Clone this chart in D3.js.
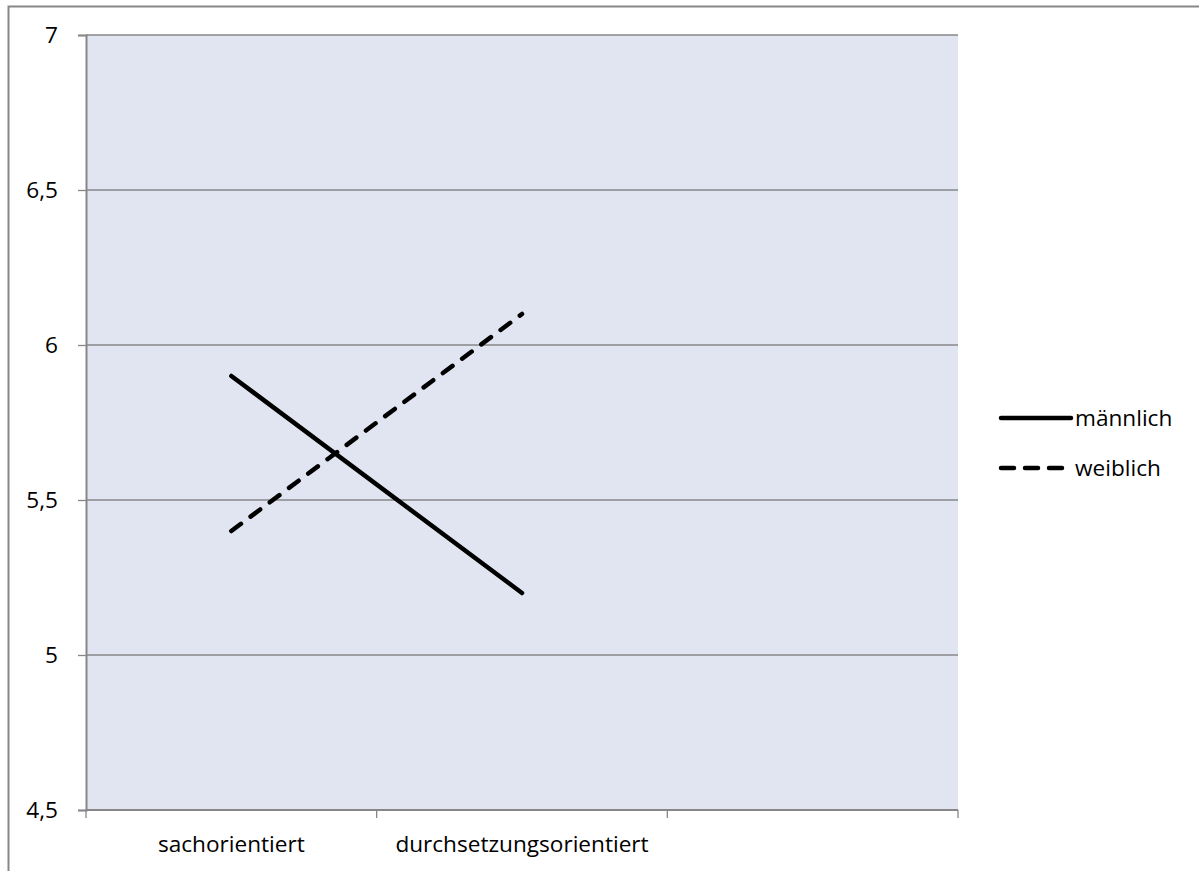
<!DOCTYPE html>
<html><head><meta charset="utf-8">
<script src="https://cdn.jsdelivr.net/npm/d3@7"></script>
<style>body{margin:0;background:#fff}svg{display:block}text{font-family:"Open Sans",sans-serif;fill:#000}</style>
</head><body>
<svg id="c" width="1199" height="871"></svg>
<script>
const categories = ["sachorientiert", "durchsetzungsorientiert", ""];
const seriesNames = ["männlich", "weiblich"];
const maennlich = [5.9, 5.2];
const weiblich = [5.4, 6.1];
const yTicks = [4.5, 5, 5.5, 6, 6.5, 7];
const yTickLabels = ["4,5", "5", "5,5", "6", "6,5", "7"];

const FS = 22.6;
const LW = 4.5;
const svg = d3.select("#c");
svg.append("rect").attr("x",8.5).attr("y",6.5).attr("width",1200).attr("height",900)
  .attr("fill","#fff").attr("stroke","#878787").attr("stroke-width",2);

const L=86, R=958, T=35, B=810;
const x = d3.scaleBand().domain(categories).range([L,R]);
const y = d3.scaleLinear().domain([4.5,7]).range([B,T]);

svg.append("rect").attr("x",L).attr("y",T).attr("width",R-L).attr("height",B-T).attr("fill","#e1e5f1");

// gridlines
svg.append("g").selectAll("line").data(yTicks.slice(1)).join("line")
  .attr("x1",L).attr("x2",R).attr("y1",d=>y(d)).attr("y2",d=>y(d))
  .attr("stroke","#878787").attr("stroke-width",1.3);

// y axis
const ya = svg.append("g").attr("transform",`translate(${L},0)`)
  .call(d3.axisLeft(y).tickValues(yTicks).tickSize(8).tickPadding(20).tickFormat((d,i)=>yTickLabels[i]));
ya.attr("font-size",FS).attr("font-family","Open Sans");
ya.select(".domain").attr("stroke","#878787").attr("stroke-width",2);
ya.selectAll(".tick line").attr("stroke","#878787").attr("stroke-width",1.3);
ya.selectAll("text").attr("fill","#000").attr("dy","0.35em");

// x axis
const xa = svg.append("g").attr("transform",`translate(0,${B})`);
xa.append("line").attr("x1",L).attr("x2",R).attr("y1",0).attr("y2",0).attr("stroke","#878787").attr("stroke-width",2);
const bounds = categories.map(c=>x(c)).concat([R]);
xa.selectAll("line.t").data(bounds).join("line").attr("class","t")
  .attr("x1",d=>d).attr("x2",d=>d).attr("y1",0).attr("y2",8).attr("stroke","#878787").attr("stroke-width",1.3);
xa.selectAll("text").data(categories).join("text")
  .attr("x",d=>x(d)+x.bandwidth()/2).attr("y",42).attr("text-anchor","middle").attr("font-size",FS).text(d=>d);

// lines
const line = d3.line().x((d,i)=>x(categories[i])+x.bandwidth()/2).y(d=>y(d));
svg.append("path").datum(maennlich).attr("d",line).attr("fill","none").attr("stroke","#000").attr("stroke-width",LW).attr("stroke-linecap","round");
svg.append("path").datum(weiblich).attr("d",line).attr("fill","none").attr("stroke","#000").attr("stroke-width",LW).attr("stroke-linecap","round").attr("stroke-dasharray","12,12");

// legend
const lg = svg.append("g");
const styles = [null, "13,11"];
seriesNames.forEach((n,i)=>{
  const yy = 418 + i*50;
  const ln = lg.append("line").attr("x1",1001).attr("x2",1071).attr("y1",yy).attr("y2",yy)
    .attr("stroke","#000").attr("stroke-width",LW).attr("stroke-linecap","round");
  if(styles[i]) ln.attr("stroke-dasharray",styles[i]);
  lg.append("text").attr("x",1075).attr("y",yy+8).attr("font-size",FS).text(n);
});
</script>
</body></html>
